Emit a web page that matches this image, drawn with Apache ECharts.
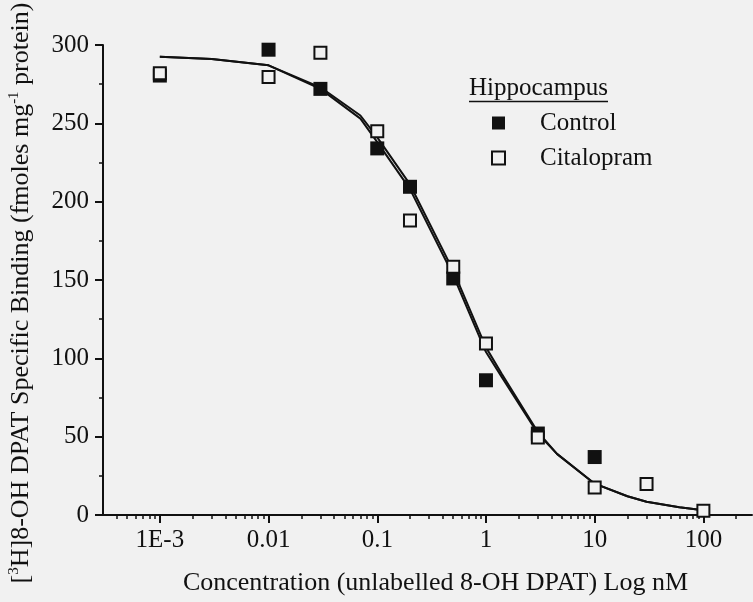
<!DOCTYPE html>
<html>
<head>
<meta charset="utf-8">
<script src="https://cdn.jsdelivr.net/npm/echarts@6/dist/echarts.min.js"></script>
<style>
html,body{margin:0;padding:0;background:#f1f1f1;}
#chart{width:753px;height:602px;}
</style>
</head>
<body>
<div id="chart"></div>
<script>
// Concentrations (nM)
const concentrations = [0.001, 0.01, 0.03, 0.1, 0.2, 0.5, 1, 3, 10, 30, 100];
// Specific binding (fmoles mg-1 protein)
const controlValues = [280.5, 297, 272, 234, 209.5, 151, 86, 52, 37, null, null];
const citalopramValues = [282, 279.5, 295, 245, 188, 158.5, 109.5, 49.5, 17.5, 19.8, 2.7];

// Fitted curves
const curveConc = [0.001, 0.003, 0.01, 0.03, 0.07, 0.1, 0.2, 0.5, 1, 1.4, 3, 4.5, 10, 20, 30, 60, 100];
const controlCurve = [292.5, 291, 287, 272, 253, 238, 208, 153, 104, 88, 52, 39, 20, 12, 8.5, 5, 3];
const citalopramCurve = [292.5, 291, 287, 273, 255, 241, 211, 156, 107, 90, 53, 39, 20, 12, 8.5, 5, 3];

// Axis ticks
const majorTickConc = [0.001, 0.01, 0.1, 1, 10, 100];
const xTickLabels = ['1E-3', '0.01', '0.1', '1', '10', '100'];
const xMinConc = 3e-4, xMaxConc = 280;

const FONT = '"Liberation Serif", "Times New Roman", serif';
const INK = '#111111';
const BG = '#f1f1f1';

const lg = Math.log10;
const toPairs = (xs, ys) => xs.map((c, i) => ys[i] == null ? null : [lg(c), ys[i]]).filter(p => p);

const xMin = lg(xMinConc), xMax = lg(xMaxConc);
const majorVals = majorTickConc.map(lg);
const minorVals = [];
for (let d = -4; d <= 2; d++) {
  for (let k = 2; k <= 9; k++) {
    const v = lg(k * Math.pow(10, d));
    if (v > xMin + 1e-6 && v < xMax) minorVals.push(v);
  }
}

const chart = echarts.init(document.getElementById('chart'));
chart.setOption({
  backgroundColor: BG,
  animation: false,
  textStyle: { fontFamily: FONT, color: INK },
  grid: { left: 103, right: 1, top: 45, bottom: 87, containLabel: false },
  xAxis: [
    {
      type: 'value', min: xMin, max: xMax, position: 'bottom',
      axisLine: { show: true, onZero: false, lineStyle: { color: INK, width: 2 } },
      axisTick: { show: true, inside: false, length: 8, lineStyle: { color: INK, width: 2 }, customValues: majorVals },
      axisLabel: {
        show: true, margin: 13, fontSize: 25, fontFamily: FONT, color: INK,
        customValues: majorVals,
        formatter: v => {
          const i = majorVals.findIndex(m => Math.abs(m - v) < 1e-6);
          return i >= 0 ? xTickLabels[i] : '';
        }
      },
      splitLine: { show: false },
      name: 'Concentration (unlabelled 8-OH DPAT) Log nM',
      nameLocation: 'middle', nameGap: 55,
      nameTextStyle: { fontSize: 26, fontFamily: FONT, color: INK, padding: [0, 0, 0, 16] }
    },
    {
      type: 'value', min: xMin, max: xMax, position: 'bottom',
      axisLine: { show: false, onZero: false },
      axisTick: { show: true, inside: false, length: 4, lineStyle: { color: INK, width: 1.5 }, customValues: minorVals },
      axisLabel: { show: false },
      splitLine: { show: false }
    }
  ],
  yAxis: {
    type: 'value', min: 0, max: 300, interval: 50,
    axisLine: { show: true, onZero: false, lineStyle: { color: INK, width: 2 } },
    axisTick: { show: true, inside: false, length: 8, lineStyle: { color: INK, width: 2 } },
    minorTick: { show: true, splitNumber: 2, length: 4, lineStyle: { color: INK, width: 1.5 } },
    axisLabel: { margin: 14, fontSize: 25, fontFamily: FONT, color: INK },
    splitLine: { show: false }
  },
  legend: {
    orient: 'vertical', left: 491, top: 110, padding: 0,
    itemWidth: 13, itemHeight: 13, itemGap: 9,
    data: ['Control', 'Citalopram'],
    textStyle: { fontSize: 25, fontFamily: FONT, color: INK, padding: [0, 0, 0, 30], lineHeight: 26 }
  },
  graphic: [
    {
      type: 'text', left: 469, top: 76,
      style: { text: 'Hippocampus', font: '25px ' + FONT, fill: INK }
    },
    {
      type: 'line', shape: { x1: 469, y1: 101.5, x2: 608, y2: 101.5 },
      style: { stroke: INK, lineWidth: 1.5 }
    },
    {
      type: 'text', x: 21, y: 293, rotation: Math.PI / 2,
      style: {
        text: '{n|[}{s|3}{n|H]8-OH DPAT Specific Binding (fmoles mg}{s|-1}{n| protein)}',
        align: 'center', verticalAlign: 'middle',
        rich: {
          n: { fontSize: 26, fontFamily: FONT, fill: INK, lineHeight: 28 },
          s: { fontSize: 15, fontFamily: FONT, fill: INK, lineHeight: 28, verticalAlign: 'top' }
        }
      }
    }
  ],
  series: [
    {
      name: 'Control fit', type: 'line', xAxisIndex: 0, data: toPairs(curveConc, controlCurve),
      showSymbol: false, smooth: false, silent: true, z: 1,
      lineStyle: { color: INK, width: 2 }
    },
    {
      name: 'Citalopram fit', type: 'line', xAxisIndex: 0, data: toPairs(curveConc, citalopramCurve),
      showSymbol: false, smooth: false, silent: true, z: 1,
      lineStyle: { color: INK, width: 2 }
    },
    {
      name: 'Control', type: 'scatter', xAxisIndex: 0, data: toPairs(concentrations, controlValues),
      symbol: 'rect', symbolSize: 14, z: 3,
      itemStyle: { color: INK, opacity: 1 }
    },
    {
      name: 'Citalopram', type: 'scatter', xAxisIndex: 0, data: toPairs(concentrations, citalopramValues),
      symbol: 'rect', symbolSize: 12, z: 4,
      itemStyle: { color: BG, borderColor: INK, borderWidth: 2, opacity: 1 }
    }
  ]
});
</script>
</body>
</html>
